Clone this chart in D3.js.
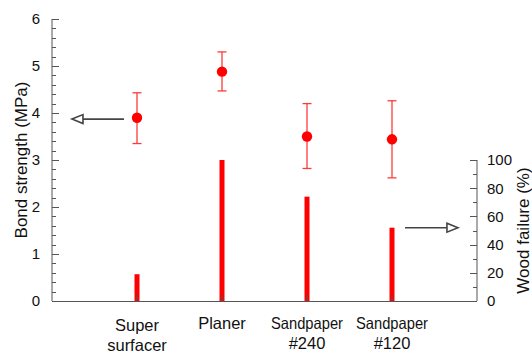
<!DOCTYPE html>
<html><head><meta charset="utf-8">
<script src="https://cdn.jsdelivr.net/npm/d3@7"></script>
<style>
html,body{margin:0;padding:0;background:#fff;}
svg text{font-family:"Liberation Sans",Arial,sans-serif;fill:#111;}
</style></head>
<body>
<svg id="chart" width="532" height="356"></svg>
<script>
// ---- data ----
const categories = [["Super","surfacer"],["Planer"],["Sandpaper","#240"],["Sandpaper","#120"]];
const bondStrength = [3.90, 4.88, 3.50, 3.44];
const bondUpper    = [4.43, 5.30, 4.20, 4.26];
const bondLower    = [3.35, 4.47, 2.82, 2.62];
const woodFailure  = [19, 100, 74, 52];
const leftTicks  = [0,1,2,3,4,5,6];
const rightTicks = [0,20,40,60,80,100];

const svg = d3.select("#chart");
const L = 52, R = 477, T = 19, B = 301;
const x = d3.scaleLinear().domain([0, categories.length + 1]).range([L, R]);
const yL = d3.scaleLinear().domain([0, 6]).range([B, T]);
const yR = d3.scaleLinear().domain([0, 100]).range([B, yL(3)]);
const axisColor = "#555";

// bars (wood failure)
svg.append("g").selectAll("rect").data(woodFailure).join("rect")
  .attr("x", (d,i) => x(i+1) - 2.5)
  .attr("width", 5)
  .attr("y", d => yR(d))
  .attr("height", d => B - yR(d))
  .attr("fill", "#ff0000");

// error bars
const eb = svg.append("g").attr("stroke", "#ff3a3a").attr("stroke-width", 1.3);
bondStrength.forEach((v,i) => {
  const cx = x(i+1);
  eb.append("line").attr("x1", cx).attr("x2", cx).attr("y1", yL(bondUpper[i])).attr("y2", yL(bondLower[i]));
  eb.append("line").attr("x1", cx-4.5).attr("x2", cx+4.5).attr("y1", yL(bondUpper[i])).attr("y2", yL(bondUpper[i]));
  eb.append("line").attr("x1", cx-4.5).attr("x2", cx+4.5).attr("y1", yL(bondLower[i])).attr("y2", yL(bondLower[i]));
});
svg.append("g").selectAll("circle").data(bondStrength).join("circle")
  .attr("cx", (d,i) => x(i+1)).attr("cy", d => yL(d)).attr("r", 5.2).attr("fill", "#ff0000");

// left axis
const gL = svg.append("g").attr("stroke", axisColor).attr("stroke-width", 1).attr("fill","none");
gL.append("line").attr("x1", L).attr("x2", L).attr("y1", yL(6)).attr("y2", B);
d3.range(0, 30).map(k => k*0.2).forEach(v => {
  const major = Math.abs(v - Math.round(v)) < 1e-6;
  gL.append("line").attr("x1", L).attr("x2", L + (major ? 7 : 4)).attr("y1", Math.round(yL(v))+0.5).attr("y2", Math.round(yL(v))+0.5);
});
gL.append("line").attr("x1", L).attr("x2", L + 7).attr("y1", yL(6)+0.5).attr("y2", yL(6)+0.5);
svg.append("g").selectAll("text").data(leftTicks).join("text")
  .attr("x", L - 12).attr("y", d => yL(d)).attr("dy", "0.36em")
  .attr("text-anchor", "end").attr("font-size", 15).text(d => d);

// right axis
const gR = svg.append("g").attr("stroke", axisColor).attr("stroke-width", 1);
gR.append("line").attr("x1", R).attr("x2", R).attr("y1", yR(100)).attr("y2", B);
d3.range(0, 101, 10).forEach(v => {
  const major = v % 20 === 0;
  gR.append("line").attr("x1", R).attr("x2", R - (major ? 7 : 4)).attr("y1", Math.round(yR(v))+0.5).attr("y2", Math.round(yR(v))+0.5);
});
svg.append("g").selectAll("text").data(rightTicks).join("text")
  .attr("x", R + 10).attr("y", d => yR(d)).attr("dy", "0.36em")
  .attr("text-anchor", "start").attr("font-size", 15).text(d => d);

// bottom axis
const gB = svg.append("g").attr("stroke", axisColor).attr("stroke-width", 1);
gB.append("line").attr("x1", L).attr("x2", R).attr("y1", B+0.5).attr("y2", B+0.5);
categories.forEach((c,i) => {
  gB.append("line").attr("x1", x(i+1)).attr("x2", x(i+1)).attr("y1", B).attr("y2", B-6);
});

// category labels
categories.forEach((lines,i) => {
  const t = svg.append("text").attr("text-anchor","middle").attr("font-size", 16.5)
    .attr("transform", `translate(${x(i+1)},${B + (lines.length > 1 && i === 0 ? 30 : 28)})`);
  lines.forEach((s,j) => {
    const ts = t.append("tspan").attr("x", 0).attr("y", j*20).text(s);
    if (s === "Sandpaper") ts.attr("textLength", 72).attr("lengthAdjust","spacingAndGlyphs");
  });
});

// axis titles
svg.append("text").attr("transform", `translate(27,${(T+B)/2 + 0}) rotate(-90)`)
  .attr("text-anchor","middle").attr("font-size", 17).text("Bond strength (MPa)");
svg.append("text").attr("transform", `translate(529,${(yR(100)+B)/2}) rotate(-90)`)
  .attr("text-anchor","middle").attr("font-size", 17).text("Wood failure (%)");

// arrows
function arrow(x1, x2, y) {
  const g = svg.append("g").attr("stroke", "#444").attr("stroke-width", 1.6).attr("fill", "#fff");
  const dir = Math.sign(x2 - x1);
  const baseX = x2 - dir * 11;
  g.append("line").attr("x1", x1).attr("x2", baseX).attr("y1", y).attr("y2", y);
  g.append("path").attr("d", `M${x2},${y} L${baseX},${y-4.5} L${baseX},${y+4.5} Z`).attr("stroke-linejoin","miter");
}
arrow(x(0.847), x(0.235), yL(3.87));
arrow(x(4.153), x(4.776), yR(52));
</script>
</body></html>
